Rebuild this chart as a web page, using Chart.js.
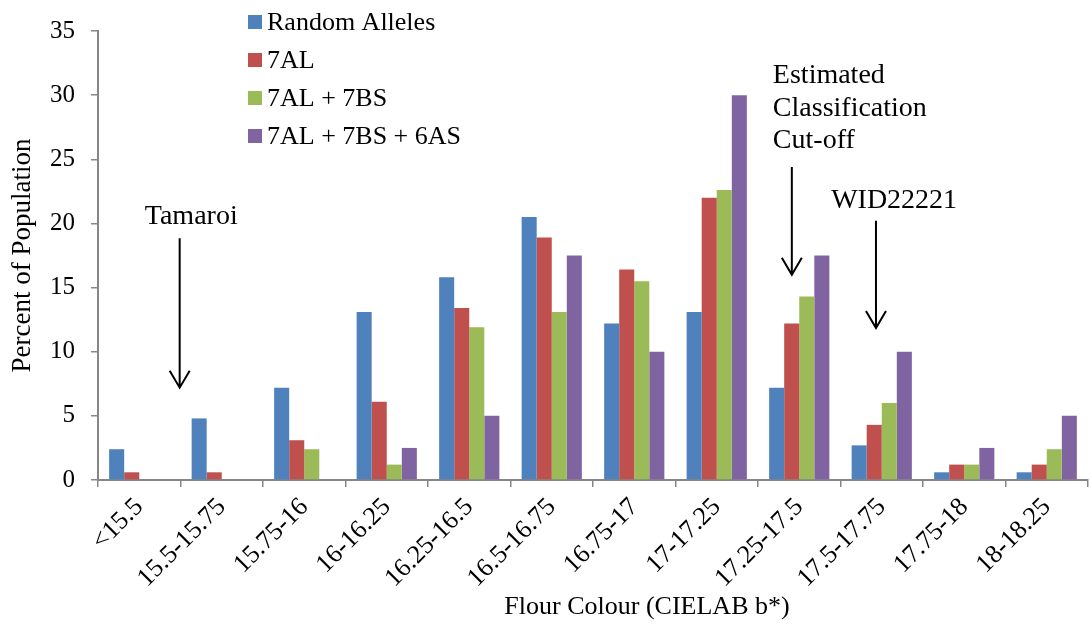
<!DOCTYPE html>
<html>
<head>
<meta charset="utf-8">
<script src="https://cdn.jsdelivr.net/npm/chart.js@4"></script>
<style>
  html, body { margin: 0; padding: 0; background: #fff; }
  #wrap { width: 1092px; height: 630px; position: relative; }
</style>
</head>
<body>
<div id="wrap"><canvas id="flour-chart"></canvas></div>
<script>
// Flour colour bins (CIELAB b*)
const categories = ['<15.5', '15.5-15.75', '15.75-16', '16-16.25', '16.25-16.5', '16.5-16.75',
                    '16.75-17', '17-17.25', '17.25-17.5', '17.5-17.75', '17.75-18', '18-18.25'];

// Percent of population per bin
const randomAlleles = [2.4, 4.8, 7.2, 13.1, 15.8, 20.5, 12.2, 13.1, 7.2, 2.7, 0.6, 0.6];
const al7 = [0.6, 0.6, 3.1, 6.1, 13.4, 18.9, 16.4, 22.0, 12.2, 4.3, 1.2, 1.2];
const al7bs7 = [0, 0, 2.4, 1.2, 11.9, 13.1, 15.5, 22.6, 14.3, 6.0, 1.2, 2.4];
const al7bs7as6 = [0, 0, 0, 2.5, 5.0, 17.5, 10.0, 30.0, 17.5, 10.0, 2.5, 5.0];

const seriesNames = ['Random Alleles', '7AL', '7AL + 7BS', '7AL + 7BS + 6AS'];
const seriesColors = ['#4F81BD', '#C0504D', '#9BBB59', '#8064A2'];

const Y_MAX = 35;
const Y_STEP = 5;

// Arrow annotations, in data units (x = category index, y = percent)
const arrows = [
    { x: 0.49, yFrom: 18.85, yTo: 7.2 },   // Tamaroi
    { x: 7.91, yFrom: 24.4, yTo: 16.0 },   // cut-off
    { x: 8.93, yFrom: 20.2, yTo: 11.85 }   // WID22221
];
const notes = [
    { lines: ['Tamaroi'], x: 0.63, y: 20.5, align: 'center' },
    { lines: ['Estimated', 'Classification', 'Cut-off'], x: 7.68, y: 31.5, align: 'left' },
    { lines: ['WID22221'], x: 9.15, y: 21.8, align: 'center' }
];

const FONT = '"Liberation Serif", "Times New Roman", serif';

const overlayPlugin = {
    id: 'overlay',
    afterDraw(chart) {
        const ctx = chart.ctx;
        const xs = chart.scales.x;
        const ys = chart.scales.y;
        ctx.save();

        // legend
        ctx.font = '26px ' + FONT;
        ctx.textBaseline = 'middle';
        ctx.textAlign = 'left';
        seriesNames.forEach((name, i) => {
            const cy = 22 + i * 38;
            ctx.fillStyle = seriesColors[i];
            ctx.fillRect(248, cy - 7, 14, 14);
            ctx.fillStyle = '#000';
            ctx.fillText(name, 267, cy + 1);
        });

        // notes
        ctx.font = '28px ' + FONT;
        notes.forEach(n => {
            const px = xs.getPixelForValue(n.x);
            let py = ys.getPixelForValue(n.y);
            ctx.textAlign = n.align;
            n.lines.forEach(line => {
                ctx.fillText(line, px, py);
                py += 32.5;
            });
        });

        // arrows
        ctx.strokeStyle = '#000';
        ctx.lineWidth = 2;
        arrows.forEach(a => {
            const px = xs.getPixelForValue(a.x);
            const top = ys.getPixelForValue(a.yFrom);
            const bot = ys.getPixelForValue(a.yTo);
            ctx.beginPath();
            ctx.moveTo(px, top);
            ctx.lineTo(px, bot);
            ctx.moveTo(px - 10, bot - 17);
            ctx.lineTo(px, bot);
            ctx.lineTo(px + 10, bot - 17);
            ctx.stroke();
        });

        // x axis title
        ctx.font = '26px ' + FONT;
        ctx.textAlign = 'center';
        ctx.fillText('Flour Colour (CIELAB b*)', 647, 607);

        ctx.restore();
    }
};

const ctx = document.getElementById('flour-chart').getContext('2d');
const flourChart = new Chart(ctx, {
    type: 'bar',
    data: {
        labels: categories,
        datasets: [randomAlleles, al7, al7bs7, al7bs7as6].map((vals, i) => ({
            label: seriesNames[i],
            data: vals,
            backgroundColor: seriesColors[i],
            borderWidth: 0,
            categoryPercentage: 0.73,
            barPercentage: 1.0
        }))
    },
    options: {
        responsive: true,
        maintainAspectRatio: false,
        animation: false,
        layout: { padding: { top: 25, right: 4, left: 0, bottom: 0 } },
        plugins: {
            legend: { display: false },
            tooltip: { enabled: false }
        },
        scales: {
            x: {
                grid: { display: true, drawOnChartArea: false, offset: true, tickLength: 7, color: '#868686', lineWidth: 1.5 },
                border: { color: '#868686', width: 2 },
                ticks: { color: '#000', font: { family: FONT, size: 26 }, minRotation: 45, maxRotation: 45, padding: 5, autoSkip: false },
                afterFit(scale) { scale.height = 150; }
            },
            y: {
                min: 0,
                max: Y_MAX,
                grid: { display: true, drawOnChartArea: false, tickLength: 7, color: '#868686', lineWidth: 1.5 },
                border: { color: '#868686', width: 2 },
                ticks: { stepSize: Y_STEP, color: '#000', font: { family: FONT, size: 25 }, padding: 16 },
                title: { display: true, text: 'Percent of Population', color: '#000', font: { family: FONT, size: 27 }, padding: { top: 7, bottom: 0 } },
                afterFit(scale) { scale.width = 98; }
            }
        }
    },
    plugins: [overlayPlugin]
});
</script>
</body>
</html>
